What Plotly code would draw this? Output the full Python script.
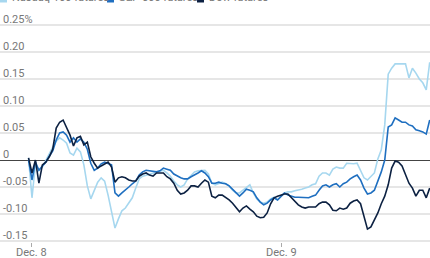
import pandas as pd
import plotly.graph_objects as go

# Percent change, sampled every 20 minutes starting Dec 7 23:40
start_time = "2020-12-07 23:40"

nasdaq = [0.004, -0.070, -0.007, -0.019, -0.013, 0.000, 0.013, 0.024, 0.035, 0.041,
          0.037, 0.031, 0.013, 0.009, 0.022, 0.015, -0.009, -0.048, -0.072, -0.057,
          -0.041, -0.033, -0.039, -0.065, -0.093, -0.126, -0.109, -0.094, -0.089, -0.080,
          -0.070, -0.052, -0.035, -0.030, -0.028, -0.026, -0.024, -0.022, -0.020, -0.019,
          -0.024, -0.030, -0.039, -0.046, -0.050, -0.046, -0.035, -0.028, -0.022, -0.020,
          -0.019, -0.019, -0.026, -0.043, -0.046, -0.043, -0.041, -0.044, -0.048, -0.056,
          -0.061, -0.061, -0.056, -0.050, -0.046, -0.061, -0.072, -0.078, -0.080, -0.078,
          -0.072, -0.069, -0.074, -0.067, -0.061, -0.059, -0.059, -0.057, -0.056, -0.054,
          -0.052, -0.050, -0.046, -0.044, -0.030, -0.024, -0.024, -0.028, -0.017, -0.013,
          -0.015, -0.015, -0.006, -0.007, -0.007, -0.006, -0.019, -0.033, -0.037, -0.031,
          -0.024, 0.002, 0.019, 0.065, 0.159, 0.170, 0.178, 0.178, 0.178, 0.178,
          0.152, 0.170, 0.161, 0.150, 0.143, 0.130, 0.181]

sp500 = [0.000, -0.037, -0.004, -0.019, -0.011, -0.004, 0.007, 0.017, 0.037, 0.050,
         0.052, 0.046, 0.033, 0.041, 0.033, 0.039, 0.033, 0.020, -0.006, -0.019,
         -0.015, -0.007, -0.004, -0.006, -0.009, -0.061, -0.067, -0.061, -0.056, -0.050,
         -0.044, -0.039, -0.028, -0.022, -0.019, -0.020, -0.020, -0.022, -0.020, -0.015,
         -0.017, -0.019, -0.026, -0.030, -0.033, -0.035, -0.035, -0.031, -0.028, -0.024,
         -0.020, -0.024, -0.031, -0.043, -0.043, -0.041, -0.043, -0.044, -0.048, -0.054,
         -0.061, -0.067, -0.061, -0.054, -0.056, -0.059, -0.070, -0.078, -0.083, -0.080,
         -0.074, -0.070, -0.074, -0.067, -0.061, -0.065, -0.067, -0.069, -0.069, -0.069,
         -0.070, -0.070, -0.067, -0.065, -0.056, -0.048, -0.046, -0.050, -0.046, -0.044,
         -0.050, -0.044, -0.041, -0.035, -0.031, -0.028, -0.037, -0.052, -0.063, -0.061,
         -0.056, -0.039, -0.022, 0.000, 0.061, 0.065, 0.078, 0.074, 0.070, 0.070,
         0.065, 0.063, 0.056, 0.054, 0.052, 0.048, 0.074]

dow = [0.004, -0.024, 0.000, -0.043, -0.009, -0.004, 0.006, 0.020, 0.059, 0.070,
       0.074, 0.061, 0.046, 0.026, 0.041, 0.044, 0.028, 0.033, 0.006, -0.006,
       -0.015, -0.011, -0.007, -0.004, -0.013, -0.041, -0.033, -0.031, -0.033, -0.037,
       -0.039, -0.039, -0.030, -0.026, -0.024, -0.028, -0.030, -0.024, -0.024, -0.024,
       -0.031, -0.035, -0.043, -0.056, -0.063, -0.061, -0.056, -0.048, -0.048, -0.050,
       -0.043, -0.037, -0.041, -0.067, -0.070, -0.065, -0.065, -0.069, -0.074, -0.080,
       -0.087, -0.096, -0.089, -0.085, -0.091, -0.096, -0.104, -0.107, -0.106, -0.098,
       -0.081, -0.070, -0.067, -0.065, -0.063, -0.063, -0.070, -0.076, -0.083, -0.087,
       -0.089, -0.087, -0.087, -0.087, -0.081, -0.078, -0.078, -0.083, -0.093, -0.094,
       -0.089, -0.091, -0.089, -0.080, -0.076, -0.074, -0.081, -0.106, -0.128, -0.124,
       -0.111, -0.098, -0.081, -0.067, -0.046, -0.015, -0.002, -0.004, -0.011, -0.026,
       -0.043, -0.052, -0.067, -0.056, -0.056, -0.070, -0.052]

series_names = ["Nasdaq-100 futures", "S&P 500 futures", "Dow futures"]
series_colors = ["#a6d7ef", "#1f6fc0", "#0c2142"]

y_tickvals = [0.25, 0.20, 0.15, 0.10, 0.05, 0, -0.05, -0.10, -0.15]
y_ticktext = ["0.25%", "0.20", "0.15", "0.10", "0.05", "0", "-0.05", "-0.10", "-0.15"]
x_tickvals = ["2020-12-08 00:00", "2020-12-09 00:00"]
x_ticktext = ["Dec. 8", "Dec. 9"]

W, H = 430, 258
ML, MR, MT, MB = 0, 0, 0, 16
PH = H - MT - MB
FONT = "Roboto, Arial, sans-serif"
GRAY = "#777777"


def px_to_paper_y(py):
    return (H - MB - py) / PH


fig = go.Figure()

# horizontal gridlines (zero line drawn darker)
for v in y_tickvals:
    if v == 0:
        continue
    fig.add_shape(type="line", xref="paper", yref="y", x0=0, x1=1, y0=v, y1=v,
                  line=dict(color="#e6e6e6", width=2), layer="below")

for name, vals, col in zip(series_names, [nasdaq, sp500, dow], series_colors):
    t = pd.date_range(start_time, periods=len(vals), freq="20min")
    fig.add_trace(go.Scatter(x=t, y=vals, mode="lines", name=name,
                             line=dict(color=col, width=1.6), showlegend=False))

# y tick labels sit just above their gridlines, at the left edge
for v, txt in zip(y_tickvals, y_ticktext):
    fig.add_annotation(xref="paper", yref="y", x=2 / W, y=v,
                       xanchor="left", yanchor="bottom", yshift=-2,
                       text=txt, showarrow=False, borderpad=0,
                       font=dict(size=11, color=GRAY, family=FONT))

# x tick labels below the tick marks
for xv, txt in zip(x_tickvals, x_ticktext):
    fig.add_annotation(xref="x", yref="paper", x=xv, y=px_to_paper_y(252),
                       xanchor="center", yanchor="middle",
                       text=txt, showarrow=False, borderpad=0,
                       font=dict(size=11, color=GRAY, family=FONT))

# legend (mostly cropped above the top edge, as in the reference)
legend_x = [0, 107, 197]
for name, col, lx in zip(series_names, series_colors, legend_x):
    fig.add_shape(type="rect", xref="paper", yref="paper",
                  x0=lx / W, x1=(lx + 7) / W,
                  y0=px_to_paper_y(2.5), y1=px_to_paper_y(-5),
                  fillcolor=col, line=dict(width=0))
    fig.add_annotation(xref="paper", yref="paper", x=(lx + 10) / W,
                       y=px_to_paper_y(-2.5), xanchor="left", yanchor="middle",
                       text=name, showarrow=False,
                       font=dict(size=11, color=GRAY, family=FONT))

fig.update_layout(
    width=W, height=H,
    margin=dict(l=ML, r=MR, t=MT, b=MB, pad=0, autoexpand=False),
    paper_bgcolor="white", plot_bgcolor="white",
    font=dict(family=FONT, size=11, color=GRAY),
    showlegend=False,
    xaxis=dict(
        type="date", automargin=False,
        range=["2020-12-07 20:55", "2020-12-09 14:21:40"],
        tickvals=x_tickvals, showticklabels=False,
        showgrid=False, zeroline=False, showline=False,
        ticks="outside", ticklen=4, tickcolor="#aaaaaa", tickwidth=1,
        fixedrange=True,
    ),
    yaxis=dict(
        automargin=False,
        range=[-0.15185, 0.29630],
        showticklabels=False, showgrid=False,
        zeroline=True, zerolinecolor="#444444", zerolinewidth=1,
        showline=False, ticks="",
        fixedrange=True,
    ),
)

fig.write_html("out.html")
